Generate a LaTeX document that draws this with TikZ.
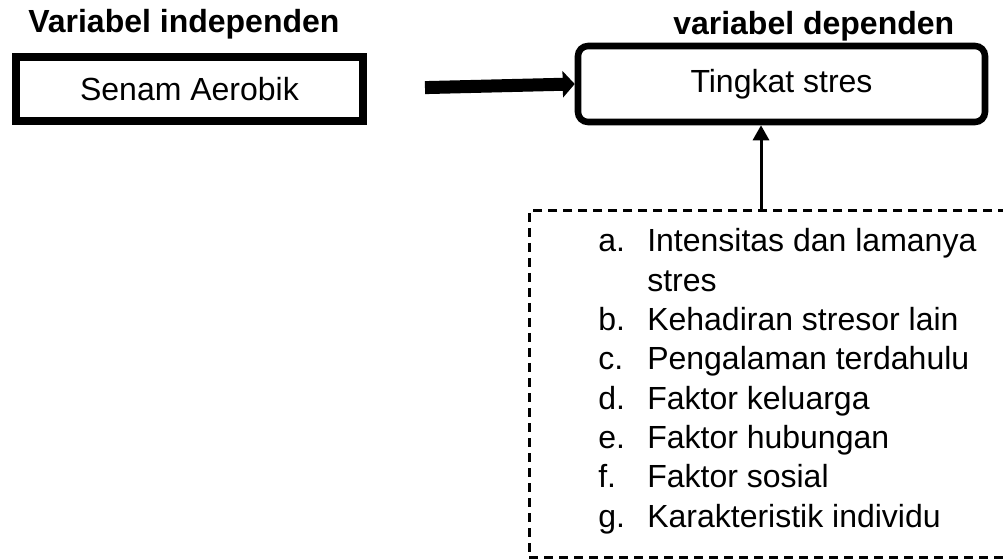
\documentclass[tikz,border=0pt]{standalone}
\usepackage{fontspec}
\setmainfont{Liberation Sans}
\usetikzlibrary{arrows.meta}
\tikzset{
    heading/.style={font=\bfseries\fontsize{24}{29}\selectfont, anchor=base west, inner sep=0pt},
    itemtext/.style={font=\fontsize{24}{29}\selectfont, anchor=base west, inner sep=0pt},
    varbox/.style={draw, line width=6pt, minimum width=260.25pt, minimum height=48pt, inner sep=0pt, font=\fontsize{24}{29}\selectfont},
    depbox/.style={draw, line width=4.9pt, rounded corners=7.5pt, minimum width=305.25pt, minimum height=57pt, inner sep=0pt, font=\fontsize{24}{29}\selectfont},
    faktorbox/.style={draw, line width=2.25pt, dash pattern=on 6.75pt off 4.5pt, minimum width=375.75pt, minimum height=259.5pt},
    bigarrow/.style={line width=9.75pt, -{Triangle[length=9pt,width=19.5pt]}},
    thinarrow/.style={line width=2.25pt, -{Triangle[length=11.25pt,width=12pt]}}
}
\newcommand{\faktor}[4]{\node[itemtext] (lbl#1) at (598,#2) {#3}; \node[itemtext] (txt#1) at (647,#2) {#4};}

\begin{document}
\begin{tikzpicture}[x=0.75pt, y=-0.75pt]
        \useasboundingbox (0,0) rectangle (1003,559);
        \node[heading] (indep) at (28,33) {Variabel independen};
        \node[heading] (dep) at (673,35) {variabel dependen};
        \node[varbox] (senam) at (189.5,89) {Senam Aerobik};
        \node[depbox] (stres) at (781.5,84) {Tingkat stres};
        \begin{scope}
            \clip (0,0) rectangle (1003,559);
            \node[faktorbox] (faktor) at (779.5,384) {};
        \end{scope}
        \coordinate (up) at (761,211);
        \draw[bigarrow, shorten <=43.5pt] (senam.east) -- (stres.west);
        \draw[thinarrow] (up) -- (up |- stres.south);
        \faktor{a}{252}{a.}{Intensitas dan lamanya}
        \node[itemtext] (txta2) at (647,291.3) {stres};
        \faktor{b}{330.6}{b.}{Kehadiran stresor lain}
        \faktor{c}{369.9}{c.}{Pengalaman terdahulu}
        \faktor{d}{409.2}{d.}{Faktor keluarga}
        \faktor{e}{448.5}{e.}{Faktor hubungan}
        \faktor{f}{487.8}{f.}{Faktor sosial}
        \faktor{g}{527.1}{g.}{Karakteristik individu}
\end{tikzpicture}
\end{document}
